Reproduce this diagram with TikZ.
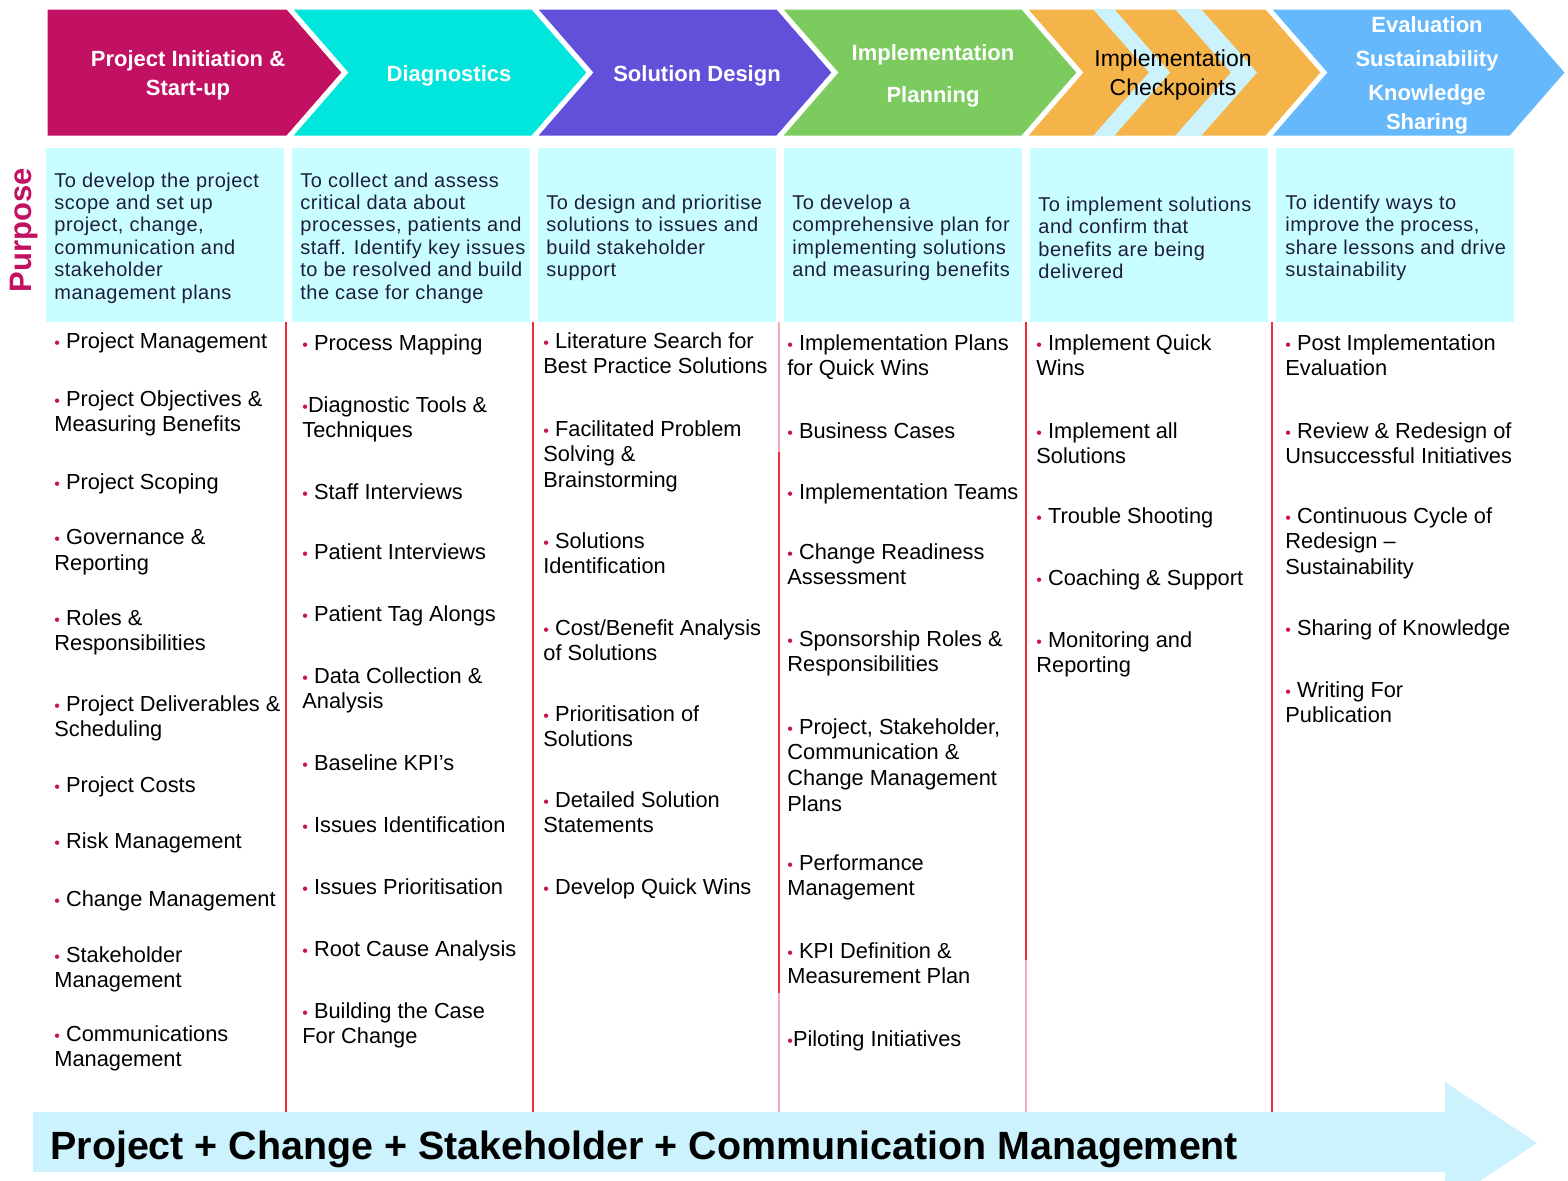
\documentclass[tikz,border=0pt]{standalone}
\usepackage{fontspec}
\setmainfont{Liberation Sans}
\newfontfamily\PurpFont[LetterSpace=2.5]{Liberation Sans}
\definecolor{phaseA}{HTML}{C21062}
\definecolor{phaseB}{HTML}{00E5DC}
\definecolor{phaseC}{HTML}{6250DA}
\definecolor{phaseD}{HTML}{7CCB5F}
\definecolor{phaseE}{HTML}{F5B449}
\definecolor{phaseF}{HTML}{66B8FC}
\definecolor{chkblue}{HTML}{CCF2FB}
\definecolor{purpbg}{HTML}{C8FEFF}
\definecolor{arrowbg}{HTML}{CCF2FD}
\definecolor{divred}{HTML}{EE2B3A}
\definecolor{divpink}{HTML}{F7A8B4}
\definecolor{dotmag}{HTML}{C8105E}
\definecolor{purptext}{HTML}{1E1E3C}
\newcommand{\Bul}{{\color{dotmag}\footnotesize\textbullet}\ }
\newcommand{\BulT}{{\color{dotmag}\footnotesize\textbullet}}
\newcommand{\Chev}[3]{\path[chev,fill=#1] (#2,7) -- (#3,7) -- ++(57,65.5) -- (#3,138) -- (#2,138) -- ++(57,-65.5) -- cycle;}
\tikzset{
  chev/.style={draw=white, line width=2.5pt, line join=miter},
  hdr/.style={text=white, align=center, font=\bfseries\fontsize{11}{14.5}\selectfont},
  purp/.style={anchor=west, inner sep=0pt, align=left, text=purptext, font=\PurpFont\fontsize{10}{11.2}\selectfont},
  task/.style={anchor=north west, inner sep=0pt, align=left, font=\fontsize{10.9}{12.8}\selectfont},
  divline/.style={draw=divred, line width=1pt},
}

\begin{document}
\begin{tikzpicture}[x=0.5pt,y=-0.5pt]
\useasboundingbox (0,0) rectangle (1568,1180);
\clip (0,0) rectangle (1568,1180);

\path[chev,fill=phaseA] (45,7) -- (288,7) -- ++(57,65.5) -- (288,138) -- (45,138) -- cycle;
\Chev{phaseB}{288}{533}
\Chev{phaseC}{533}{778}
\Chev{phaseD}{778}{1023}
\Chev{phaseE}{1023}{1267}
\Chev{phaseF}{1267}{1511}
\fill[chkblue] (1093,9) -- (1114,9) -- (1170,72.5) -- (1114,136) -- (1093,136) -- (1149,72.5) -- cycle;
\fill[chkblue] (1175,9) -- (1201,9) -- (1257,72.5) -- (1201,136) -- (1175,136) -- (1231,72.5) -- cycle;

\node[hdr] (init) at (188,75) {Project Initiation \&\\Start-up};
\node[hdr] (diag) at (449,76) {Diagnostics};
\node[hdr] (soln) at (697,76) {Solution Design};
\node[hdr] (plan) at (933,76) {Implementation\\[6.5pt]Planning};
\node[hdr,text=black,font=\fontsize{11.5}{14.5}\selectfont] (check) at (1173,75) {Implementation\\Checkpoints};
\node[hdr] (eval) at (1427,75) {Evaluation\\[2.5pt]Sustainability\\[2.5pt]Knowledge\\Sharing};

\node[rotate=90, text=phaseA, font=\bfseries\fontsize{15.5}{18}\selectfont] (purpose) at (24,230) {Purpose};

\fill[purpbg] (46,148) rectangle (284,322);
\fill[purpbg] (292,148) rectangle (530,322);
\fill[purpbg] (538,148) rectangle (776,322);
\fill[purpbg] (784,148) rectangle (1022,322);
\fill[purpbg] (1030,148) rectangle (1268,322);
\fill[purpbg] (1276,148) rectangle (1514,322);

\node[purp] (init-p) at (54,238) {To develop the project\\scope and set up\\project, change,\\communication and\\stakeholder\\management plans};
\node[purp] (diag-p) at (300,238) {To collect and assess\\critical data about\\processes, patients and\\staff. Identify key issues\\to be resolved and build\\the case for change};
\node[purp] (soln-p) at (546,238) {To design and prioritise\\solutions to issues and\\build stakeholder\\support};
\node[purp] (plan-p) at (792,238) {To develop a\\comprehensive plan for\\implementing solutions\\and measuring benefits};
\node[purp] (check-p) at (1038,238) {To implement solutions\\and confirm that\\benefits are being\\delivered};
\node[purp] (eval-p) at (1285,238) {To identify ways to\\improve the process,\\share lessons and drive\\sustainability};

\draw[divline] (286,322) -- (286,1112);
\draw[divline] (533,322) -- (533,1112);
\draw[divline,draw=divpink] (779,322) -- (779,452);
\draw[divline] (779,452) -- (779,993);
\draw[divline,draw=divpink] (779,993) -- (779,1112);
\draw[divline] (1026,322) -- (1026,960);
\draw[divline,draw=divpink] (1026,960) -- (1026,1112);
\draw[divline] (1272,322) -- (1272,1112);

\node[task] (init-1) at (54,332) {\Bul Project Management};
\node[task] (init-2) at (54,390) {\Bul Project Objectives \&\\Measuring Benefits};
\node[task] (init-3) at (54,473) {\Bul Project Scoping};
\node[task] (init-4) at (54,529) {\Bul Governance \&\\Reporting};
\node[task] (init-5) at (54,609) {\Bul Roles \&\\Responsibilities};
\node[task] (init-6) at (54,695) {\Bul Project Deliverables \&\\Scheduling};
\node[task] (init-7) at (54,776) {\Bul Project Costs};
\node[task] (init-8) at (54,832) {\Bul Risk Management};
\node[task] (init-9) at (54,890) {\Bul Change Management};
\node[task] (init-10) at (54,946) {\Bul Stakeholder\\Management};
\node[task] (init-11) at (54,1025) {\Bul Communications\\Management};

\node[task] (diag-1) at (302,334) {\Bul Process Mapping};
\node[task] (diag-2) at (302,396) {\BulT Diagnostic Tools \&\\Techniques};
\node[task] (diag-3) at (302,483) {\Bul Staff Interviews};
\node[task] (diag-4) at (302,543) {\Bul Patient Interviews};
\node[task] (diag-5) at (302,605) {\Bul Patient Tag Alongs};
\node[task] (diag-6) at (302,667) {\Bul Data Collection \&\\Analysis};
\node[task] (diag-7) at (302,754) {\Bul Baseline KPI’s};
\node[task] (diag-8) at (302,816) {\Bul Issues Identification};
\node[task] (diag-9) at (302,878) {\Bul Issues Prioritisation};
\node[task] (diag-10) at (302,940) {\Bul Root Cause Analysis};
\node[task] (diag-11) at (302,1002) {\Bul Building the Case\\For Change};

\node[task] (soln-1) at (543,332) {\Bul Literature Search for\\Best Practice Solutions};
\node[task] (soln-2) at (543,420) {\Bul Facilitated Problem\\Solving \&\\Brainstorming};
\node[task] (soln-3) at (543,532) {\Bul Solutions\\Identification};
\node[task] (soln-4) at (543,619) {\Bul Cost/Benefit Analysis\\of Solutions};
\node[task] (soln-5) at (543,705) {\Bul Prioritisation of\\Solutions};
\node[task] (soln-6) at (543,791) {\Bul Detailed Solution\\Statements};
\node[task] (soln-7) at (543,878) {\Bul Develop Quick Wins};

\node[task] (plan-1) at (787,334) {\Bul Implementation Plans\\for Quick Wins};
\node[task] (plan-2) at (787,422) {\Bul Business Cases};
\node[task] (plan-3) at (787,483) {\Bul Implementation Teams};
\node[task] (plan-4) at (787,543) {\Bul Change Readiness\\Assessment};
\node[task] (plan-5) at (787,630) {\Bul Sponsorship Roles \&\\Responsibilities};
\node[task] (plan-6) at (787,718) {\Bul Project, Stakeholder,\\Communication \&\\Change Management\\Plans};
\node[task] (plan-7) at (787,854) {\Bul Performance\\Management};
\node[task] (plan-8) at (787,942) {\Bul KPI Definition \&\\Measurement Plan};
\node[task] (plan-9) at (787,1030) {\BulT Piloting Initiatives};

\node[task] (check-1) at (1036,334) {\Bul Implement Quick\\Wins};
\node[task] (check-2) at (1036,422) {\Bul Implement all\\Solutions};
\node[task] (check-3) at (1036,507) {\Bul Trouble Shooting};
\node[task] (check-4) at (1036,569) {\Bul Coaching \& Support};
\node[task] (check-5) at (1036,631) {\Bul Monitoring and\\Reporting};

\node[task] (eval-1) at (1285,334) {\Bul Post Implementation\\Evaluation};
\node[task] (eval-2) at (1285,422) {\Bul Review \& Redesign of\\Unsuccessful Initiatives};
\node[task] (eval-3) at (1285,507) {\Bul Continuous Cycle of\\Redesign –\\Sustainability};
\node[task] (eval-4) at (1285,619) {\Bul Sharing of Knowledge};
\node[task] (eval-5) at (1285,681) {\Bul Writing For\\Publication};

\fill[arrowbg] (33,1112) -- (1445,1112) -- (1445,1082) -- (1537,1143) -- (1445,1204) -- (1445,1172) -- (33,1172) -- cycle;
\node[anchor=base west, inner sep=0pt, font=\bfseries\fontsize{19.7}{22}\selectfont] (mgmt) at (50,1159) {Project + Change + Stakeholder + Communication Management};
\end{tikzpicture}
\end{document}
